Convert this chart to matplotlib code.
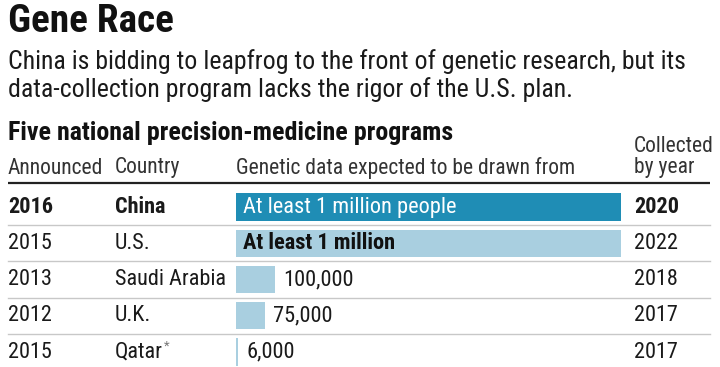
import matplotlib
matplotlib.use("Agg")
import matplotlib.pyplot as plt
from matplotlib import font_manager as fm

announced = ["2016", "2015", "2013", "2012", "2015"]
countries = ["China", "U.S.", "Saudi Arabia", "U.K.", "Qatar"]
people = [1000000, 1000000, 100000, 75000, 6000]
value_labels = ["At least 1 million people", "At least 1 million", "100,000", "75,000", "6,000"]
collected = ["2020", "2022", "2018", "2017", "2017"]

title = "Gene Race"
subtitle = ["China is bidding to leapfrog to the front of genetic research, but its",
            "data-collection program lacks the rigor of the U.S. plan."]
chart_title = "Five national precision-medicine programs"

# choose a narrow font if one is installed
fonts = fm.fontManager.ttflist
names = {f.name for f in fonts}
stretch = "normal"
if "Roboto Condensed" in names:
    fam = "Roboto Condensed"
elif "Liberation Sans Narrow" in names:
    fam = "Liberation Sans Narrow"
else:
    fam = "Roboto"
plt.rcParams["font.family"] = [fam, "DejaVu Sans"]

W, H = 720, 367
fig = plt.figure(figsize=(7.2, 3.67), dpi=100)
renderer = fig.canvas.get_renderer()
bg = fig.add_axes([0, 0, 1, 1])
bg.set_xlim(0, W)
bg.set_ylim(H, 0)
bg.axis("off")


def fit_size(s, target, weight="normal"):
    t = fig.text(0, 0, s, fontsize=10, fontweight=weight)
    w = t.get_window_extent(renderer).width
    t.remove()
    return 10 * target / w


txt = "#1a1a1a"
fs_title = fit_size(title, 165, "bold")
fs_sub = fit_size(subtitle[0], 675)
fs_ct = fit_size(chart_title, 447, "bold")
fs_head = fit_size("Genetic data expected to be drawn from", 337)
fs_row = fit_size("Saudi Arabia", 111)
fs_bar = fit_size("At least 1 million people", 212)

bg.text(8, 22, title, fontsize=fs_title, fontweight="bold", va="center", ha="left", color="#111111")
bg.text(8, 62, subtitle[0], fontsize=fs_sub, va="center", ha="left", color=txt)
bg.text(8, 90, subtitle[1], fontsize=fs_sub, va="center", ha="left", color=txt)
bg.text(8, 133, chart_title, fontsize=fs_ct, fontweight="bold", va="center", ha="left", color="#111111")

col_ann, col_cty, col_bar, col_yr = 8, 115, 236, 634
hy = 168
hc = "#333333"
bg.text(col_ann, hy, "Announced", fontsize=fs_head, va="center", color=hc)
bg.text(col_cty, hy, "Country", fontsize=fs_head, va="center", color=hc)
bg.text(col_bar, hy, "Genetic data expected to be drawn from", fontsize=fs_head, va="center", color=hc)
bg.text(col_yr, 147, "Collected", fontsize=fs_head, va="center", color=hc)
bg.text(col_yr, hy, "by year", fontsize=fs_head, va="center", color=hc)

bg.plot([8, 710], [183, 183], color="#222222", lw=1.6, solid_capstyle="butt")

row0, step = 207, 36.25
for i in range(1, len(countries)):
    y = row0 + step * (i - 0.5)
    bg.plot([8, 710], [y, y], color="#c8c8c8", lw=1.0)

for i in range(len(countries)):
    y = row0 + step * i
    w = "bold" if i == 0 else "normal"
    bg.text(col_ann, y, announced[i], fontsize=fs_row, fontweight=w, va="center", color=txt)
    name = countries[i]
    t = bg.text(col_cty, y, name, fontsize=fs_row, fontweight=w, va="center", color=txt)
    if name == "Qatar":
        bb = t.get_window_extent(renderer)
        bg.text(bb.x1 + 1, y - 6, "*", fontsize=fs_row * 0.6, va="center", color="#777777")
    bg.text(col_yr, y, collected[i], fontsize=fs_row, fontweight=w, va="center", color=txt)

# bar axes: x 0..1e6 maps to pixel 236..621
x0, x1 = 236, 621
top = row0 - step / 2
ax = fig.add_axes([x0 / W, 0, (x1 - x0) / W, (H - top) / H])
ax.set_xlim(0, 1000000)
ax.set_ylim(-0.5 + (H - top) / step, -0.5)
ax.axis("off")
ax.patch.set_alpha(0)
colors = ["#1f8db5", "#a9cfe0", "#a9cfe0", "#a9cfe0", "#a9cfe0"]
ypos = list(range(len(countries)))
ax.barh(ypos, people, height=0.75, color=colors)
for i, (v, lab) in enumerate(zip(people, value_labels)):
    if v >= 500000:
        c = "white" if i == 0 else "#111111"
        fw = "normal" if i == 0 else "bold"
        ax.annotate(lab, (0, i), xytext=(5, 0), textcoords="offset points",
                    va="center", ha="left", fontsize=fs_bar, color=c, fontweight=fw)
    else:
        ax.annotate(lab, (v, i), xytext=(6, 0), textcoords="offset points",
                    va="center", ha="left", fontsize=fs_bar, color=txt)

fig.savefig("out.png", dpi=100)
